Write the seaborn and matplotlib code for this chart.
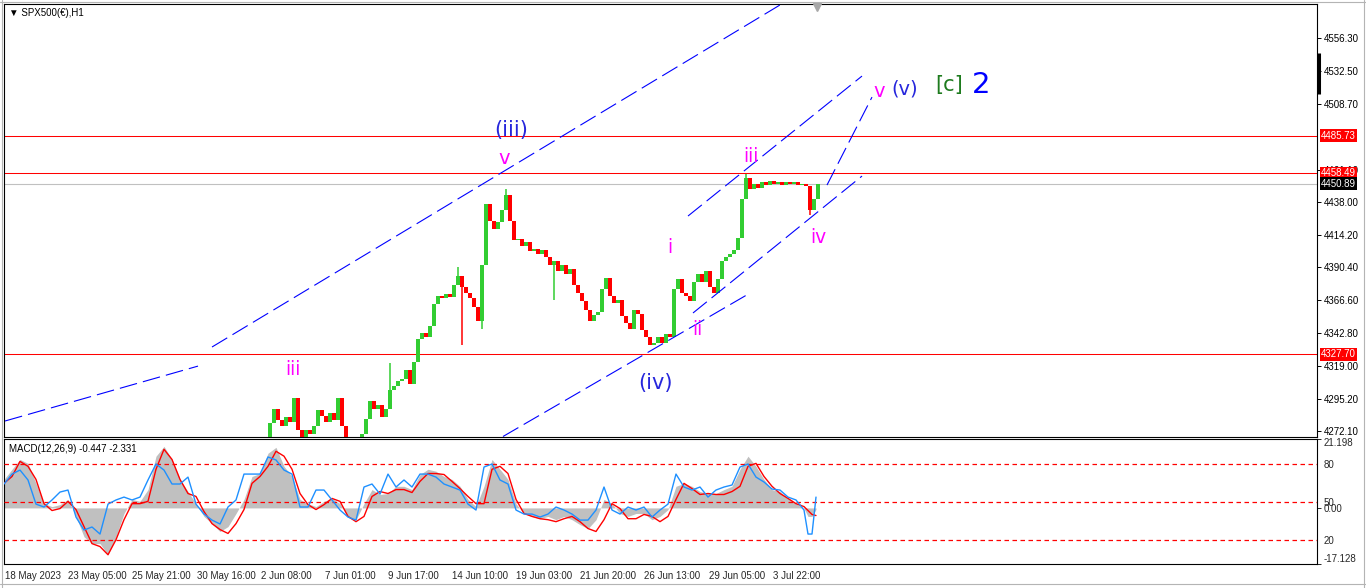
import numpy as np
import pandas as pd
import matplotlib
matplotlib.use("Agg")
import matplotlib.pyplot as plt
import matplotlib.transforms as mtransforms
from matplotlib.lines import Line2D
import seaborn as sns

sns.set_style("white")
plt.rcParams['font.family'] = ['Liberation Sans', 'DejaVu Sans']

# ---------------- data ----------------
# H1 closes sampled every 4 bars, from bar 262 onward (earlier bars sit below the visible range)
closes = [4265, 4278, 4288, 4280, 4276, 4282, 4279, 4296, 4273, 4268,
          4273, 4270, 4276, 4287, 4283, 4279, 4285, 4280, 4296, 4276,
          4267, 4264, 4266, 4264, 4270, 4281, 4294, 4288, 4291, 4282,
          4288, 4302, 4305, 4308, 4310, 4316, 4306, 4322, 4339, 4343,
          4340, 4348, 4364, 4370, 4368, 4371, 4369, 4378, 4384, 4376,
          4372, 4368, 4362, 4352, 4392, 4436, 4424, 4418, 4423, 4432,
          4443, 4424, 4410, 4411, 4406, 4409, 4402, 4404, 4400, 4403,
          4398, 4392, 4395, 4388, 4392, 4386, 4389, 4378, 4372, 4366,
          4360, 4352, 4356, 4358, 4375, 4383, 4370, 4365, 4367, 4355,
          4350, 4346, 4360, 4357, 4345, 4340, 4334, 4336, 4340, 4336,
          4342, 4340, 4375, 4382, 4372, 4370, 4366, 4380, 4386, 4380,
          4388, 4376, 4372, 4382, 4395, 4398, 4400, 4403, 4412, 4440,
          4455, 4447, 4451, 4448, 4452, 4450, 4453, 4451, 4452, 4450,
          4452, 4451, 4452, 4450, 4451, 4449, 4432, 4440, 4451]
price_bars = list(range(262, 262 + 4 * len(closes), 4))

# a few long shadows
wick_bars = [386, 454, 458, 478, 502, 550, 742, 806]
wick_ends = [4321, 4391, 4334, 4346, 4447, 4367, 4458, 4428]

red_levels = [4485.73, 4458.49, 4327.70]
bid_price = 4450.89

price_ticks = [4556.30, 4532.50, 4508.70, 4461.10, 4438.00, 4414.20,
               4390.40, 4366.60, 4342.80, 4319.00, 4295.20, 4272.10]

# MACD panel, sampled every 8 bars (last few every 4)
macd_bars = list(range(0, 801, 8)) + [804, 808, 812]
macd_vals = [8.7, 11.8, 14.8, 13.6, 7.5, 1.3, 0.4, 1.0,
             2.6, -2.6, -8.8, -10.9, -10.9, -14.3, -8.8, -1.7,
             2.6, 2.0, 5.6, 15.8, 18.8, 14.8, 8.7, 5.0,
             1.3, -2.6, -4.8, -7.2, -5.7, -1.7, 2.6, 9.6,
             10.5, 16.7, 18.5, 12.7, 9.6, 2.6, 1.3, 0.4,
             2.0, 2.9, 1.3, -2.6, -3.6, 1.3, 5.6, 4.1,
             4.4, 6.6, 6.6, 5.6, 10.2, 11.8, 11.2, 9.6,
             8.7, 6.6, 2.6, 0.4, 6.6, 14.8, 11.8, 8.7,
             1.3, -1.7, -2.6, -3.3, -2.6, -3.6, -2.6, -3.6,
             -5.1, -6.3, -3.6, 2.6, 1.3, -1.7, -2.6, -1.7,
             -1.7, -3.6, -2.6, -0.5, 6.6, 7.5, 6.6, 5.0,
             4.4, 4.4, 5.6, 6.6, 11.8, 15.8, 12.7, 8.7,
             5.6, 5.0, 2.9, 1.3, -0.2,
             -2.6, -2.6, -0.447]
signal_vals = [7.5, 9.6, 14.2, 12.7, 8.7, 1.3, -0.8, -0.2,
               2.0, -0.5, -5.7, -10.9, -11.8, -14.3, -9.7, -3.6,
               1.3, 1.3, 2.0, 11.8, 17.9, 14.8, 8.7, 4.4,
               3.5, -1.1, -4.8, -6.6, -7.8, -4.8, -0.5, 7.5,
               9.6, 12.7, 17.3, 15.8, 11.8, 4.4, 1.0, -0.5,
               1.0, 2.9, 2.0, -2.6, -4.2, -2.6, 3.5, 5.0,
               4.4, 5.6, 5.6, 4.7, 8.1, 10.5, 10.5, 10.2,
               8.1, 5.9, 3.5, 1.3, 1.3, 11.8, 12.7, 10.5,
               2.6, -1.7, -2.6, -3.3, -3.6, -4.2, -3.3, -2.6,
               -4.2, -6.3, -7.2, -3.6, 1.3, -0.2, -3.3, -3.3,
               -2.0, -2.6, -4.2, -2.6, 2.6, 7.5, 5.9, 4.1,
               4.4, 4.1, 4.1, 5.0, 6.6, 12.7, 13.6, 9.6,
               6.6, 4.4, 2.9, 1.3, 0.4,
               -0.8, -2.0, -2.331]
osc_vals = [64.3, 72.2, 75.4, 67.5, 48.3, 46.0, 51.6, 57.9,
            59.5, 38.0, 27.7, 30.1, 24.5, 48.3, 51.6, 53.9,
            51.6, 53.9, 67.5, 80.2, 75.4, 64.3, 64.3, 69.8,
            48.3, 40.4, 35.6, 32.5, 46.0, 51.6, 72.2, 72.2,
            72.2, 85.8, 83.4, 75.4, 72.2, 46.0, 46.0, 59.5,
            59.5, 51.6, 43.6, 38.0, 35.6, 61.9, 64.3, 56.3,
            72.2, 61.9, 67.5, 61.9, 72.2, 72.2, 69.8, 64.3,
            61.9, 59.5, 48.3, 43.6, 77.8, 80.2, 67.5, 64.3,
            43.6, 40.4, 40.4, 38.0, 40.4, 46.0, 43.6, 40.4,
            35.6, 35.6, 43.6, 61.9, 43.6, 40.4, 46.0, 43.6,
            46.0, 38.0, 43.6, 48.3, 72.2, 61.9, 59.5, 61.9,
            53.9, 59.5, 61.9, 63.5, 77.8, 80.2, 69.8, 65.9,
            60.3, 59.5, 53.9, 51.6, 43.6,
            24.5, 24.5, 53.9]
osc_levels = [80, 50, 20]

time_ticks = [1, 64, 128, 193, 257, 321, 384, 448, 512, 576, 640, 705, 769]
time_labels = ["18 May 2023", "23 May 05:00", "25 May 21:00", "30 May 16:00",
               "2 Jun 08:00", "7 Jun 01:00", "9 Jun 17:00", "14 Jun 10:00",
               "19 Jun 03:00", "21 Jun 20:00", "26 Jun 13:00", "29 Jun 05:00",
               "3 Jul 22:00"]

# trend lines (bar, price) -> (bar, price)
trend_lines = [(1, 4279.4, 194, 4319.1),
               (208, 4332.9, 776, 4580.2),
               (499, 4268.2, 746, 4371.9),
               (684, 4427.6, 858, 4528.8),
               (689, 4357.5, 858, 4456.5),
               (823, 4450.0, 868, 4513.6)]

MAG = '#FF00FF'
BLU = '#2626DC'
wave_labels = [("(iii)", 507, 4489.8, BLU, 15),
               ("v", 500, 4469.5, MAG, 14),
               ("iii", 289, 4317.0, MAG, 13.5),
               ("(iv)", 652, 4306.8, BLU, 15),
               ("i", 666, 4404.5, MAG, 13.5),
               ("ii", 693, 4345.9, MAG, 13.5),
               ("iii", 747, 4470.3, MAG, 13.5),
               ("iv", 814, 4412.4, MAG, 13.5),
               ("v", 875, 4517.3, MAG, 14),
               ("(v)", 901, 4519.4, BLU, 14),
               ("[c]", 945, 4522.3, '#1E7B1E', 15),
               ("2", 977, 4522.3, '#0000FF', 21)]

# ---------------- figure ----------------
W, H = 1366, 588
fig = plt.figure(figsize=(W / 100, H / 100), dpi=100)
fig.patch.set_facecolor('white')

ax = fig.add_axes([4 / W, 1 - 436.5 / H, 1313 / W, 432.5 / H])
ax2 = fig.add_axes([4 / W, 1 - 564 / H, 1313 / W, 125.5 / H])

for a in (ax, ax2):
    a.set_xlim(0, 1313)
    for s in a.spines.values():
        s.set_color('black')
        s.set_linewidth(0.8)

ax.set_ylim(4268.2, 4580.9)
ax.set_xticks([])

# horizontal levels
for lv in red_levels:
    ax.axhline(lv, color='#FF0000', lw=0.75, zorder=1)
ax.axhline(bid_price, color='#C0C0C0', lw=0.8, zorder=1)

# candles: body from previous close to close
opens = np.array(closes[:-1], dtype=float)
cl = np.array(closes[1:], dtype=float)
h = cl - opens
h = np.where(np.abs(h) < 0.8, 0.8, h)
cols = np.where(cl >= opens, '#32CD32', '#FF0000')
ax.bar(price_bars[1:], h, bottom=opens, width=3.5, color=cols, linewidth=0, zorder=3)

close_at = dict(zip(price_bars, closes))
prev_at = dict(zip(price_bars[1:], closes[:-1]))
wcols = ['#32CD32' if close_at[b] >= prev_at[b] else '#FF0000' for b in wick_bars]
ax.vlines(wick_bars, [close_at[b] for b in wick_bars], wick_ends, colors=wcols, lw=1.1, zorder=3)

# trend lines
for b0, p0, b1, p1 in trend_lines:
    ax.plot([b0, b1], [p0, p1], color='#0000FF', lw=0.8, dashes=(16, 5.5), zorder=4)

# wave labels
for txt, b, p, c, fs in wave_labels:
    ax.text(b, p, txt, color=c, fontsize=fs, ha='center', va='center',
            family='DejaVu Sans', zorder=6)

# price scale
ax.yaxis.tick_right()
ax.set_yticks(price_ticks)
ax.set_yticklabels([f"{v:.2f}" for v in price_ticks])
ax.tick_params(axis='y', direction='out', length=3, width=0.7, labelsize=7, pad=2, colors='black')

trans_r = mtransforms.blended_transform_factory(ax.transAxes, ax.transData)
for lv in red_levels:
    ax.text(1 + 4 / 1313, lv, f"{lv:.2f}", transform=trans_r, color='white', fontsize=7,
            ha='left', va='center', clip_on=False, zorder=10,
            bbox=dict(boxstyle='square,pad=0.15', fc='#FF0000', ec='none'))
ax.text(1 + 4 / 1313, bid_price, f"{bid_price:.2f}", transform=trans_r, color='white', fontsize=7,
        ha='left', va='center', clip_on=False, zorder=10,
        bbox=dict(boxstyle='square,pad=0.15', fc='black', ec='none'))
ax.plot([1 + 1.5 / 1313, 1 + 1.5 / 1313], [4545.5, 4515.8], transform=trans_r,
        color='black', lw=2.2, solid_capstyle='butt', clip_on=False, zorder=10)

trans_t = mtransforms.blended_transform_factory(ax.transData, ax.transAxes)
ax.plot([813], [1 - 3 / 432.5], marker='v', ms=6, color='#A8A8A8', transform=trans_t,
        clip_on=False, zorder=10)

ax.text(5 / 1313, 1 - 9 / 432.5, "\u25BC SPX500(\u20AC),H1", transform=ax.transAxes,
        fontsize=7, ha='left', va='center', color='black')

# ---------------- MACD panel ----------------
macd_df = pd.DataFrame({'bar': macd_bars, 'macd': macd_vals,
                        'signal': signal_vals, 'osc': osc_vals})
ax2.set_ylim(-17.128, 21.198)
ax2.fill_between(macd_df['bar'], 0, macd_df['macd'], color='#C0C0C0', lw=0, zorder=1)
sns.lineplot(data=macd_df, x='bar', y='signal', ax=ax2, color='#FF0000', linewidth=1.0, zorder=3)
ax2.set_xlabel('')
ax2.set_ylabel('')

ax3 = ax2.twinx()
ax3.set_ylim(0.67, 100.5)
for lv in osc_levels:
    ax3.axhline(lv, color='#FF0000', lw=0.9, dashes=(3.6, 2.8), zorder=1)
sns.lineplot(data=macd_df, x='bar', y='osc', ax=ax3, color='#1E90FF', linewidth=1.0, zorder=2)
ax3.set_ylabel('')
ax3.set_xlabel('')
for s in ax3.spines.values():
    s.set_visible(False)

ax2.yaxis.tick_right()
ax2.set_yticks([21.198, 0.0, -17.128])
ax2.set_yticklabels(["21.198", "0.00", "-17.128"])
ax2.tick_params(axis='y', direction='out', length=3, width=0.7, labelsize=7, pad=2)
ylbls = ax2.get_yticklabels()
ylbls[0].set_va('top')
ylbls[2].set_va('bottom')
ax3.set_yticks(osc_levels)
ax3.set_yticklabels([str(v) for v in osc_levels])
ax3.tick_params(axis='y', direction='out', length=0, labelsize=7, pad=5)

ax2.set_xticks(time_ticks)
ax2.set_xticklabels(time_labels, ha='left')
ax2.tick_params(axis='x', direction='out', length=3, width=0.7, labelsize=7, pad=2)
ax2.set_xlim(0, 1313)

ax2.text(5 / 1313, 1 - 10 / 125.5, "MACD(12,26,9) -0.447 -2.331", transform=ax2.transAxes,
         fontsize=7, ha='left', va='center', color='black', zorder=10)

# window frame
for xs, ys in [([0, 1], [1 - 1.5 / H] * 2), ([1.5 / W] * 2, [0, 1]),
               ([1363.5 / W] * 2, [0, 1]), ([0, 1], [1 - 584 / H] * 2)]:
    fig.add_artist(Line2D(xs, ys, transform=fig.transFigure, color='#B4B4B4', lw=0.8))

fig.savefig("out.png", dpi=100)
